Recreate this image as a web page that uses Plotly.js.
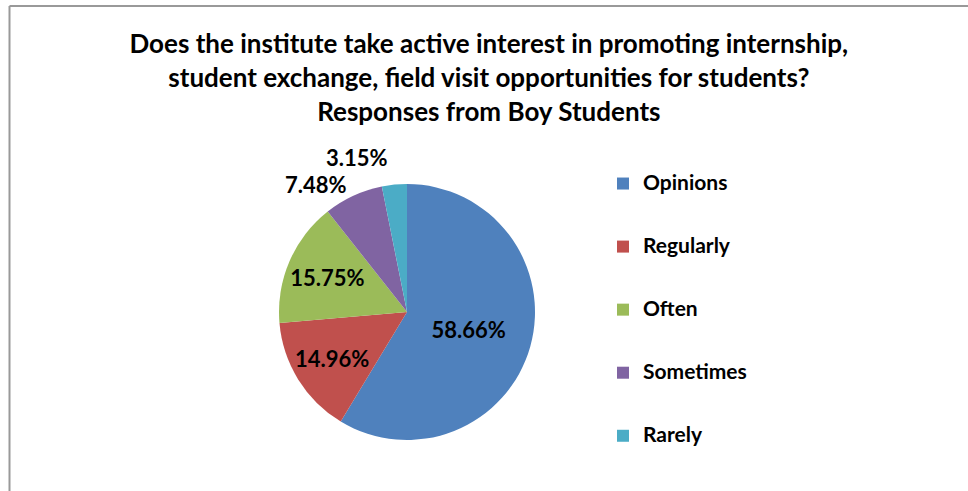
<!DOCTYPE html>
<html>
<head>
<meta charset="utf-8">
<script src="https://cdn.plot.ly/plotly-3.0.1.min.js"></script>
<style>
html,body{margin:0;padding:0;background:#fff;}
#chart{width:968px;height:491px;}
#chart path.textline{display:none !important;}
</style>
</head>
<body>
<div id="chart"></div>
<script>
const categories = ["Opinions", "Regularly", "Often", "Sometimes", "Rarely"];
const percentages = [58.66, 14.96, 15.75, 7.48, 3.15];
const colors = ["#4F81BD", "#C0504D", "#9BBB59", "#8064A2", "#4BACC6"];
const labelPositions = ["inside", "inside", "inside", "outside", "outside"];
const titleLines = [
  "Does the institute take active interest in promoting internship,",
  "student exchange, field visit opportunities for students?",
  "Responses from Boy Students"
];

const FONT = "Lato, 'Liberation Sans', sans-serif";
const W = 968, H = 491;
const cx = 407, cy = 312, r = 128;

const trace = {
  type: "pie",
  labels: categories.map(c => " <br><span style='font-size:21px'>" + c + "</span><br> "),
  values: percentages,
  text: percentages.map(v => v.toFixed(2) + "%"),
  textinfo: "text",
  textposition: labelPositions,
  insidetextorientation: "horizontal",
  sort: false,
  direction: "clockwise",
  rotation: 0,
  automargin: false,
  marker: { colors: colors, line: { width: 0 } },
  textfont: { family: FONT, size: 22, color: "#000", weight: "bold" },
  domain: { x: [(cx - r) / W, (cx + r) / W], y: [(H - cy - r) / H, (H - cy + r) / H] },
  hoverinfo: "text"
};

const layout = {
  width: W, height: H,
  margin: { l: 0, r: 0, t: 0, b: 0, autoexpand: false },
  paper_bgcolor: "#fff",
  font: { family: FONT, color: "#000" },
  title: {
    text: titleLines.join("<br>"),
    font: { family: FONT, size: 26, color: "#000", weight: "bold" },
    x: 0.505, xanchor: "center",
    y: 1 - 53 / H, yanchor: "top", yref: "container"
  },
  showlegend: true,
  legend: {
    x: 603 / W, xanchor: "left",
    y: 1 - 147 / H, yanchor: "top",
    font: { family: FONT, size: 15.4, color: "#000", weight: "bold" },
    itemwidth: 30, bgcolor: "rgba(0,0,0,0)"
  },
  shapes: [
    { type: "line", xref: "paper", yref: "paper", x0: 9.5 / W, x1: 9.5 / W, y0: 1 - 6 / H, y1: -0.05, line: { color: "#999", width: 2 } },
    { type: "line", xref: "paper", yref: "paper", x0: 9.5 / W, x1: 1.05, y0: 1 - 6 / H, y1: 1 - 6 / H, line: { color: "#999", width: 2 } }
  ]
};

Plotly.newPlot("chart", [trace], layout, { displayModeBar: false, staticPlot: true });
</script>
</body>
</html>
